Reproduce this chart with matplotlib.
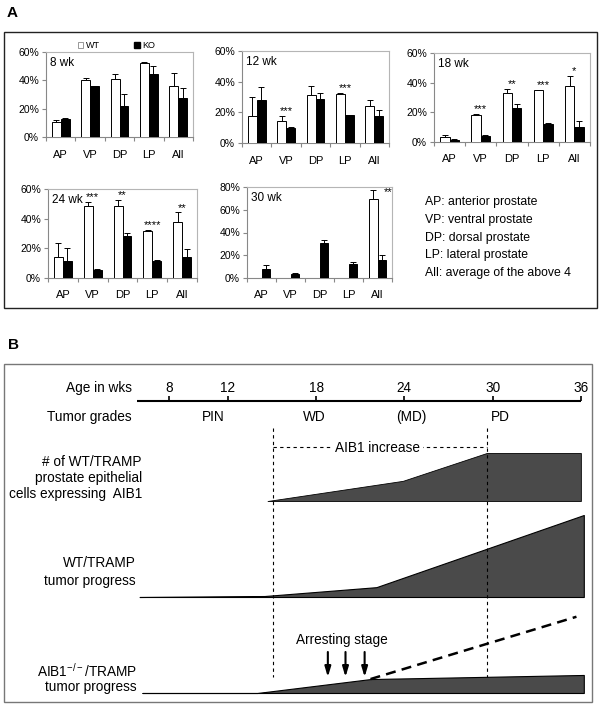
import matplotlib.pyplot as plt
import numpy as np
from matplotlib.patches import Rectangle, Patch

plt.rcParams['font.family'] = ['Liberation Sans', 'DejaVu Sans']
plt.rcParams['mathtext.fontset'] = 'custom'
plt.rcParams['mathtext.rm'] = 'Liberation Sans'

W, H = 601, 705

categories = ['AP', 'VP', 'DP', 'LP', 'All']

# panel A, percent values (WT open bars, KO filled bars)
wt_8 = [10.6, 40.0, 40.7, 52.5, 36.2]
wt_8_err = [1.2, 1.6, 4.0, 0.5, 9.2]
ko_8 = [12.9, 35.8, 21.9, 44.7, 27.8]
ko_8_err = [0.5, 0.4, 8.7, 5.7, 6.8]
stars_8 = ['', '', '', '', '']

wt_12 = [17.8, 14.6, 31.0, 32.1, 24.0]
wt_12_err = [12.2, 3.0, 6.0, 0.5, 3.9]
ko_12 = [27.9, 9.6, 28.9, 18.2, 17.8]
ko_12_err = [8.5, 0.7, 3.9, 0.3, 3.6]
stars_12 = ['', '***', '', '***', '']

wt_18 = [3.4, 18.0, 32.8, 35.0, 37.8]
wt_18_err = [1.1, 1.1, 2.9, 0.3, 6.9]
ko_18 = [1.6, 4.3, 22.7, 12.1, 9.9]
ko_18_err = [0.4, 0.2, 3.1, 0.5, 4.0]
stars_18 = ['', '***', '**', '***', '*']

wt_24 = [14.1, 48.6, 48.6, 31.8, 37.6]
wt_24_err = [9.4, 2.9, 4.0, 0.7, 6.7]
ko_24 = [11.6, 5.6, 28.4, 11.2, 14.1]
ko_24_err = [8.5, 0.7, 1.8, 0.7, 5.4]
stars_24 = ['', '***', '**', '****', '**']

wt_30 = [0, 0, 0, 0, 69.5]
wt_30_err = [0, 0, 0, 0, 7.6]
ko_30 = [7.9, 3.8, 30.8, 12.6, 15.5]
ko_30_err = [3.2, 0.3, 2.3, 1.5, 5.0]
stars_30 = ['', '', '', '', '**']

abbrev_lines = ['AP: anterior prostate', 'VP: ventral prostate', 'DP: dorsal prostate',
                'LP: lateral prostate', 'All: average of the above 4']

# panel B, schematic (weeks and relative heights)
age_ticks = [8, 12, 18, 24, 30, 36]
grade_labels = ['PIN', 'WD', '(MD)', 'PD']
grade_weeks = [11.0, 17.9, 24.5, 30.5]
aib1_weeks = [14.7, 23.9, 29.6, 36.0]
aib1_level = [0.0, 0.42, 1.0, 1.0]
wt_tumor_weeks = [6.0, 14.5, 22.1, 36.2]
wt_tumor_level = [0.0, 0.012, 0.12, 1.0]
ko_tumor_weeks = [6.2, 14.0, 21.7, 36.2]
ko_tumor_level = [0.0, 0.0, 0.17, 0.22]
ko_expected_weeks = [21.7, 35.7]
ko_expected_level = [0.17, 0.93]
arrest_weeks = [18.8, 20.0, 21.3]
increase_weeks = [15.1, 29.6]

fig = plt.figure(figsize=(W / 100, H / 100), dpi=100)


def fx(x):
    return x / W


def fy(y):
    return 1 - y / H


def px_axes(l, t, r, b):
    return fig.add_axes([l / W, 1 - b / H, (r - l) / W, (b - t) / H])


def bar_panel(ax, wt, wt_err, ko, ko_err, stars, label, ymax):
    bw = 0.3
    x = np.arange(len(categories))
    wt = np.array(wt, float)
    ko = np.array(ko, float)
    wt_err = np.array(wt_err, float)
    ko_err = np.array(ko_err, float)
    ax.bar(x - bw / 2, wt, bw, color='white', edgecolor='black', linewidth=0.7, zorder=3)
    ax.bar(x + bw / 2, ko, bw, color='black', edgecolor='black', linewidth=0.7, zorder=3)
    m = wt > 0
    ax.errorbar((x - bw / 2)[m], wt[m], yerr=[np.zeros(m.sum()), wt_err[m]], fmt='none',
                ecolor='black', elinewidth=0.7, capsize=2.5, capthick=0.7, zorder=2)
    m = ko > 0
    ax.errorbar((x + bw / 2)[m], ko[m], yerr=[np.zeros(m.sum()), ko_err[m]], fmt='none',
                ecolor='black', elinewidth=0.7, capsize=2.5, capthick=0.7, zorder=2)
    ax.set_xlim(-0.5, 4.5)
    ax.set_ylim(0, ymax)
    yt = np.arange(0, ymax + 1, 20)
    ax.set_yticks(yt)
    ax.set_yticklabels([f'{v}%' for v in yt])
    ax.set_xticks(x)
    ax.set_xticklabels(categories)
    ax.set_xticks(np.arange(-0.5, 5, 1), minor=True)
    ax.tick_params(axis='x', which='major', length=0, pad=9, labelsize=8)
    ax.tick_params(axis='x', which='minor', length=3, color='#888888', width=0.8)
    ax.tick_params(axis='y', length=3, color='#888888', width=0.8, labelsize=7.5, pad=2)
    for s in ['top', 'right']:
        ax.spines[s].set_color('#b5b5b5')
        ax.spines[s].set_linewidth(0.8)
    for s in ['left', 'bottom']:
        ax.spines[s].set_color('#888888')
        ax.spines[s].set_linewidth(0.8)
    ax.annotate(label, xy=(0, 1), xycoords='axes fraction', xytext=(4, -11),
                textcoords='offset pixels', fontsize=8.5, ha='left', va='center')
    caps = np.maximum(wt + wt_err, ko + ko_err)
    for i, s in enumerate(stars):
        if not s:
            continue
        if caps[i] + 6 > ymax:
            ax.text(i + 0.36, caps[i] - 4, s, ha='center', va='baseline', fontsize=8)
        else:
            ax.text(i, caps[i] + 1, s, ha='center', va='baseline', fontsize=8)


ax1 = px_axes(46, 52, 193, 137)
bar_panel(ax1, wt_8, wt_8_err, ko_8, ko_8_err, stars_8, '8 wk', 60)
ax1.legend(handles=[Patch(facecolor='white', edgecolor='#888888', linewidth=0.6, label='WT'),
                    Patch(facecolor='black', edgecolor='black', label='KO')],
           loc='lower center', bbox_to_anchor=(0.48, 0.98), ncol=2, frameon=False,
           fontsize=6.5, handlelength=0.6, handleheight=0.6, handletextpad=0.3,
           columnspacing=3.8, borderaxespad=0)

ax2 = px_axes(242, 51, 389, 143)
bar_panel(ax2, wt_12, wt_12_err, ko_12, ko_12_err, stars_12, '12 wk', 60)

ax3 = px_axes(434, 53, 590, 142)
bar_panel(ax3, wt_18, wt_18_err, ko_18, ko_18_err, stars_18, '18 wk', 60)

ax4 = px_axes(48, 189, 197, 278)
bar_panel(ax4, wt_24, wt_24_err, ko_24, ko_24_err, stars_24, '24 wk', 60)

ax5 = px_axes(247, 187, 392, 278)
bar_panel(ax5, wt_30, wt_30_err, ko_30, ko_30_err, stars_30, '30 wk', 80)

for i, line in enumerate(abbrev_lines):
    fig.text(fx(425), fy(202 + i * 17.8), line, fontsize=8.8, va='center', ha='left')

# frames and panel letters
fig.add_artist(Rectangle((fx(4), fy(308)), (597 - 4) / W, (308 - 32) / H, transform=fig.transFigure,
                         fill=False, edgecolor='#222222', linewidth=1.0))
fig.add_artist(Rectangle((fx(4), fy(702)), (592 - 4) / W, (702 - 364) / H, transform=fig.transFigure,
                         fill=False, edgecolor='#777777', linewidth=1.0))
fig.text(fx(12), fy(13), 'A', fontsize=11, fontweight='bold', ha='center', va='center')
fig.text(fx(13), fy(345), 'B', fontsize=11, fontweight='bold', ha='center', va='center')

# panel B
X0, XS = 51.3, 14.71
axb = px_axes(4, 364, 592, 702)
axb.set_xlim((4 - X0) / XS, (592 - X0) / XS)
axb.set_ylim(702, 364)
axb.axis('off')

fs_b = 9.8
line_y = 401
axb.plot([(137 - X0) / XS, age_ticks[-1]], [line_y, line_y], color='black', lw=1.5,
         solid_capstyle='butt')
axb.vlines(age_ticks, line_y - 5, line_y, color='black', lw=1.2)
for w in age_ticks:
    axb.text(w, 388, str(w), ha='center', va='center', fontsize=fs_b)
for w, g in zip(grade_weeks, grade_labels):
    axb.text(w, 417, g, ha='center', va='center', fontsize=fs_b)
fig.text(fx(132), fy(388), 'Age in wks', ha='right', va='center', fontsize=fs_b)
fig.text(fx(132), fy(417), 'Tumor grades', ha='right', va='center', fontsize=fs_b)

dark = '#4a4a4a'
# AIB1 expression band
base, h = 501, 48
axb.fill_between(aib1_weeks, base, base - np.array(aib1_level) * h, facecolor=dark,
                 edgecolor='black', linewidth=0.6)
# WT tumor progress
base, h = 597, 82
axb.fill_between(wt_tumor_weeks, base, base - np.array(wt_tumor_level) * h, facecolor=dark,
                 edgecolor='black', linewidth=0.8)
# AIB1-/- tumor progress
base = 693
axb.fill_between(ko_tumor_weeks, base, base - np.array(ko_tumor_level) * h, facecolor=dark,
                 edgecolor='black', linewidth=0.8)
axb.plot(ko_expected_weeks, base - np.array(ko_expected_level) * h, color='black', lw=1.8,
         linestyle=(0, (4, 2.5)))

axb.vlines(increase_weeks, 428, 677, color='black', lw=0.8, linestyles=(0, (3, 3)))
axb.hlines(447, increase_weeks[0], increase_weeks[1], color='black', lw=0.8,
           linestyles=(0, (3, 3)))
axb.text(np.mean(increase_weeks) - 0.15, 448, 'AIB1 increase', ha='center', va='center',
         fontsize=fs_b, bbox=dict(facecolor='white', edgecolor='none', pad=2))

for w in arrest_weeks:
    axb.annotate('', xy=(w, 677), xytext=(w, 652),
                 arrowprops=dict(arrowstyle='-|>,head_length=0.6,head_width=0.18',
                                 color='black', lw=1.5, shrinkA=0, shrinkB=0))
axb.text(np.mean(arrest_weeks) - 0.3, 640, 'Arresting stage', ha='center', va='center',
         fontsize=fs_b)

for i, t in enumerate(['# of WT/TRAMP', 'prostate epithelial', 'cells expressing  AIB1']):
    fig.text(fx(142), fy(462 + i * 16), t, ha='right', va='center', fontsize=fs_b)
for i, t in enumerate(['WT/TRAMP', 'tumor progress']):
    fig.text(fx(136), fy(563 + i * 18), t, ha='right', va='center', fontsize=fs_b)
for i, t in enumerate([r'AIB1$\mathregular{^{-/-}}$/TRAMP', 'tumor progress']):
    fig.text(fx(137), fy(671 + i * 16), t, ha='right', va='center', fontsize=fs_b)

plt.savefig('out.png', dpi=100)
